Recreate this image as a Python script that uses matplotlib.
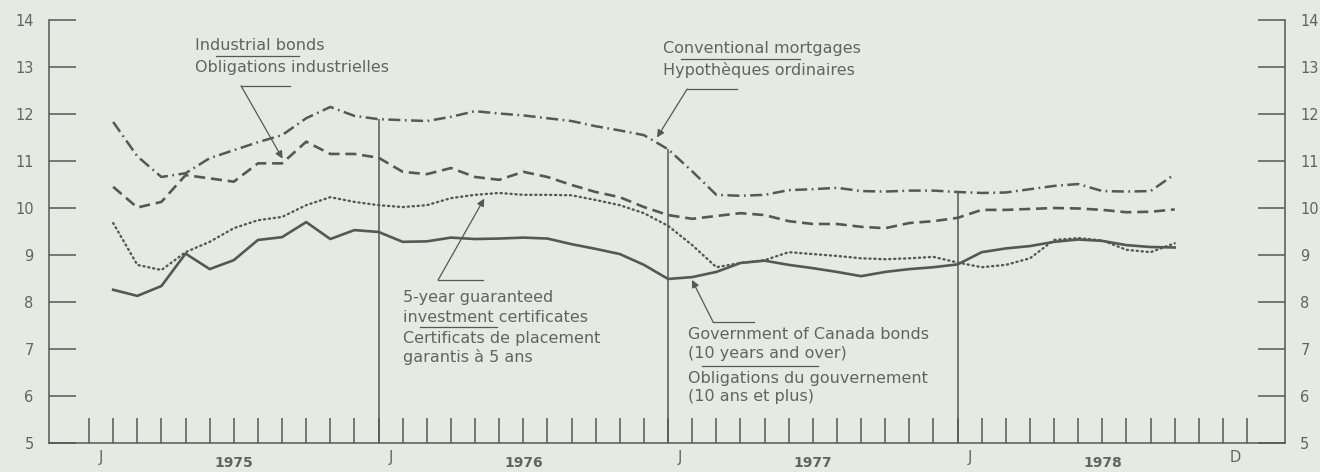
import matplotlib
matplotlib.use('Agg')
import matplotlib.pyplot as plt
import numpy as np

PAPER, INK, TXT = '#e7eae3', '#565953', '#62655f'

# month-end observations, Jan 1975 .. Sep 1978 (per cent)
MONTHS = np.arange(1, 46)
GOVT = [8.26, 8.13, 8.34, 9.03, 8.70, 8.89, 9.32, 9.38, 9.70, 9.34, 9.53, 9.49,
        9.28, 9.29, 9.37, 9.34, 9.35, 9.37, 9.35, 9.23, 9.13, 9.02, 8.79, 8.49,
        8.53, 8.64, 8.83, 8.88, 8.79, 8.72, 8.64, 8.55, 8.64, 8.70, 8.74, 8.80,
        9.06, 9.14, 9.19, 9.28, 9.33, 9.30, 9.21, 9.17, 9.16]
GIC = [9.68, 8.79, 8.68, 9.06, 9.28, 9.57, 9.74, 9.81, 10.06, 10.23, 10.13, 10.06,
       10.02, 10.06, 10.21, 10.28, 10.32, 10.28, 10.28, 10.27, 10.17, 10.06, 9.89, 9.62,
       9.21, 8.74, 8.83, 8.89, 9.06, 9.02, 8.98, 8.93, 8.91, 8.93, 8.96, 8.84,
       8.74, 8.79, 8.93, 9.32, 9.36, 9.31, 9.11, 9.06, 9.25]
IND = [10.45, 10.01, 10.13, 10.70, 10.63, 10.56, 10.95, 10.95, 11.41, 11.15, 11.15, 11.07,
       10.77, 10.72, 10.85, 10.66, 10.60, 10.77, 10.66, 10.49, 10.34, 10.23, 10.02, 9.85,
       9.77, 9.83, 9.89, 9.85, 9.72, 9.66, 9.66, 9.60, 9.57, 9.68, 9.72, 9.79,
       9.96, 9.96, 9.98, 10.00, 9.99, 9.96, 9.91, 9.92, 9.97]
CONV = [11.83, 11.10, 10.66, 10.74, 11.06, 11.23, 11.40, 11.55, 11.91, 12.15, 11.96, 11.89,
        11.87, 11.85, 11.94, 12.06, 12.01, 11.97, 11.91, 11.85, 11.74, 11.65, 11.55, 11.25,
        10.78, 10.28, 10.26, 10.28, 10.38, 10.40, 10.43, 10.36, 10.35, 10.37, 10.37, 10.34,
        10.32, 10.33, 10.40, 10.47, 10.51, 10.36, 10.35, 10.36, 10.72]
YEARS = ['1975', '1976', '1977', '1978']
Y_TICKS = list(range(5, 15))

plt.rcParams['font.family'] = ['DejaVu Sans']

fig = plt.figure(figsize=(13.2, 4.72), dpi=100, facecolor=PAPER)
ax = fig.add_axes([49 / 1320, 29 / 472, 1236 / 1320, 423 / 472])
ax.set_facecolor(PAPER)
ax.set_xlim(-1.66, 49.57)
ax.set_ylim(5, 14)

# series
ax.plot(MONTHS, GOVT, color=INK, lw=1.9)
ax.plot(MONTHS, GIC, color=INK, lw=1.7, linestyle=(0, (0.5, 1.6)), dash_capstyle='round')
ax.plot(MONTHS, IND, color=INK, lw=1.9, linestyle=(0, (4.2, 2.2)))
ax.plot(MONTHS, CONV, color=INK, lw=1.8, linestyle=(0, (4.8, 1.8, 0.7, 1.8)))

# frame
for side in ['left', 'right', 'bottom']:
    ax.spines[side].set_color(INK)
    ax.spines[side].set_linewidth(1.1)
ax.spines['top'].set_visible(False)
ax.set_yticks(Y_TICKS)
ax.tick_params(axis='y', direction='in', length=19.5, width=1.1, color=INK,
               labelcolor=TXT, labelsize=10.5, pad=11,
               left=True, right=True, labelleft=True, labelright=True)
ax.set_xticks(np.arange(0, 49))
ax.tick_params(axis='x', direction='in', length=18, width=1.1, color=INK,
               labelbottom=False)

# year separators rise to the mortgage line
for k in range(1, 4):
    ax.vlines(12 * k, 5, CONV[12 * k - 1], color=INK, lw=1.1)

for k, yr in enumerate(YEARS):
    ax.text(12 * k + 0.5, 4.70, 'J', fontsize=10.5, color=TXT, ha='center', va='center', clip_on=False)
    ax.text(12 * k + 6, 4.57, yr, fontsize=10, fontweight='bold', color=TXT, ha='center', va='center', clip_on=False)
ax.text(47.5, 4.70, 'D', fontsize=10.5, color=TXT, ha='center', va='center', clip_on=False)


def label(x, ys, lines):
    for y, s in zip(ys, lines):
        ax.text(x, y, s, fontsize=11.5, color=TXT, ha='left', va='center')


def leader(start, end, tip):
    ax.plot([start[0], end[0]], [start[1], end[1]], color=INK, lw=0.9)
    ax.annotate('', xy=tip, xytext=start,
                arrowprops=dict(arrowstyle='-|>', lw=0.9, color=INK,
                                shrinkA=0, shrinkB=0, mutation_scale=11))


def underline(x0, x1, y):
    ax.plot([x0, x1], [y, y], color=INK, lw=0.9)


label(4.39, [13.45, 12.98], ['Industrial bonds', 'Obligations industrielles'])
underline(5.26, 8.70, 13.23)
leader((6.30, 12.60), (8.33, 12.60), (8.02, 11.05))

label(23.79, [13.40, 12.94], ['Conventional mortgages', 'Hypothèques ordinaires'])
underline(24.54, 29.47, 13.17)
leader((24.79, 12.53), (26.86, 12.53), (23.54, 11.50))

label(13.02, [8.09, 7.68, 7.23, 6.83],
      ['5-year guaranteed', 'investment certificates', 'Certificats de placement', 'garantis à 5 ans'])
underline(13.72, 16.91, 7.47)
leader((14.47, 8.47), (16.33, 8.47), (16.38, 10.20))

label(24.83, [7.30, 6.91, 6.38, 5.98],
      ['Government of Canada bonds', '(10 years and over)', 'Obligations du gouvernement', '(10 ans et plus)'])
underline(25.41, 30.22, 6.64)
leader((25.87, 7.57), (27.56, 7.57), (24.99, 8.47))

fig.savefig('out.png', dpi=100, facecolor=PAPER)
